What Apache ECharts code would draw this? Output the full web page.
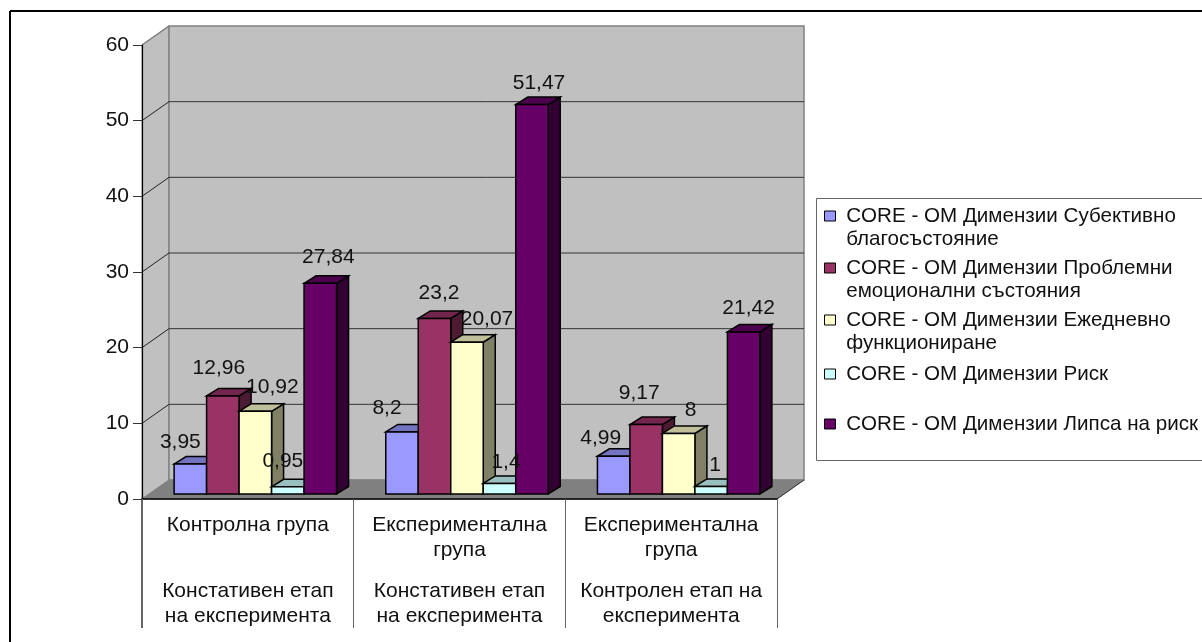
<!DOCTYPE html>
<html>
<head>
<meta charset="utf-8">
<style>html,body{margin:0;padding:0;background:#fff}#chart{width:1202px;height:642px}</style>
<script src="https://cdn.jsdelivr.net/npm/echarts@6/dist/echarts.min.js"></script>
</head>
<body>
<div id="chart"></div>
<script>
// Group labels under the axis
const categories = [
  'Контролна група|Констативен етап|на експеримента',
  'Експериментална|група|Констативен етап|на експеримента',
  'Експериментална|група|Контролен етап на|експеримента'
];
const wellbeing = [3.95, 8.2, 4.99];
const problems = [12.96, 23.2, 9.17];
const functioning = [10.92, 20.07, 8];
const risk = [0.95, 1.4, 1];
const noRisk = [27.84, 51.47, 21.42];
const seriesNames = [
  'CORE - ОМ Димензии Субективно\nблагосъстояние',
  'CORE - ОМ Димензии Проблемни\nемоционални състояния',
  'CORE - ОМ Димензии Ежедневно\nфункциониране',
  'CORE - ОМ Димензии Риск',
  'CORE - ОМ Димензии Липса на риск'
];
const yTicks = [0, 10, 20, 30, 40, 50, 60];

// Face colours per series: front, top, side
const faces = [
  ['#9999ff', '#7373bf', '#4d4d80'],
  ['#993366', '#73264d', '#4d1a33'],
  ['#ffffcc', '#bfbf99', '#808066'],
  ['#ccffff', '#99bfbf', '#668080'],
  ['#660066', '#4d004d', '#330033']
];
// Hand placement of the value labels relative to each bar's top centre [dx, dy], one row per series
const labelNudge = [
  [[-10, -22], [-15, -24], [-13, -18]],
  [[-4, -28], [4.5, -25.5], [-7, -31]],
  [[17, -24], [20, -23], [12, -23]],
  [[-5, -26], [6.5, -21], [4, -21]],
  [[8, -26], [7, -21.5], [5, -24]]
];
const legendCenters = [216, 268, 320, 374, 424];

// Oblique projection of the chart box
const WALL_DX = 27, WALL_DY = -19;
const BAR_INSET_DX = 7.5, BAR_INSET_DY = -5;
const BAR_DX = 12, BAR_DY = -7.5;
const BAR_WIDTH_SHARE = 0.1535;
const FONT = '"Liberation Sans", Arial, sans-serif';
const FONT_SIZE = 21;

const fmt = v => String(v).replace('.', ',');

function poly(points, fill, stroke, width, z2) {
  return {
    type: 'polygon', z2: z2,
    shape: { points: points },
    style: { fill: fill, stroke: stroke, lineWidth: width, lineJoin: 'miter' }
  };
}
function seg(a, b, stroke, width, z2) {
  return {
    type: 'line', z2: z2,
    shape: { x1: a[0], y1: a[1], x2: b[0], y2: b[1] },
    style: { stroke: stroke, lineWidth: width }
  };
}

// Back wall, side wall, floor and the gridlines that run across the walls
function renderBox(params, api) {
  const groupW = api.size([1, 0])[0];
  const lb = api.coord([0, 0]);
  const lt = api.coord([0, 60]);
  const x0 = lb[0] - groupW / 2;
  const x1 = x0 + groupW * categories.length;
  const yb = lb[1], yt = lt[1];
  const back = (x, y) => [x + WALL_DX, y + WALL_DY];
  const kids = [
    poly([[x0, yt], back(x0, yt), back(x0, yb), [x0, yb]], '#c0c0c0', '#808080', 1, 0),
    poly([back(x0, yt), back(x1, yt), back(x1, yb), back(x0, yb)], '#c0c0c0', '#808080', 1.5, 0),
    poly([[x0, yb], back(x0, yb), back(x1, yb), [x1, yb]], '#808080', '#808080', 1, 1),
    seg([x1, yb], back(x1, yb), '#333', 1, 2)
  ];
  yTicks.forEach(t => {
    if (t === 0 || t === 60) return;
    const y = api.coord([0, t])[1];
    kids.push(seg([x0, y], back(x0, y), '#222', 1, 2));
    kids.push(seg(back(x0, y), back(x1, y), '#333', 1, 2));
  });
  kids.push(seg([x0, yt], back(x0, yt), '#808080', 1.5, 2));
  kids.push(seg([x0, yb], [x0, yb + 129], '#000', 1.2, 2));
  return { type: 'group', children: kids };
}

// One 3-D column: front, top and side faces plus its value label
function renderBar(seriesIdx) {
  return function (params, api) {
    const cat = api.value(0), val = api.value(1);
    const top = api.coord([cat, val]);
    const base = api.coord([cat, 0]);
    const w = api.size([1, 0])[0] * BAR_WIDTH_SHARE;
    const xL = top[0] + BAR_INSET_DX + (seriesIdx - 2.5) * w;
    const xR = xL + w;
    const yT = top[1] + BAR_INSET_DY;
    const yB = base[1] + BAR_INSET_DY;
    const c = faces[seriesIdx];
    const nudge = labelNudge[seriesIdx][cat];
    return {
      type: 'group',
      children: [
        poly([[xR, yT], [xR + BAR_DX, yT + BAR_DY], [xR + BAR_DX, yB + BAR_DY], [xR, yB]], c[2], '#000', 1.5, 10 + seriesIdx),
        poly([[xL, yT], [xL + BAR_DX, yT + BAR_DY], [xR + BAR_DX, yT + BAR_DY], [xR, yT]], c[1], '#000', 1.5, 10 + seriesIdx),
        poly([[xL, yT], [xR, yT], [xR, yB], [xL, yB]], c[0], '#000', 1.5, 10 + seriesIdx),
        {
          type: 'text', z2: 100,
          style: {
            x: (xL + xR) / 2 + nudge[0], y: yT + nudge[1],
            text: fmt(val), fill: '#111', align: 'center', verticalAlign: 'middle',
            font: FONT_SIZE + 'px ' + FONT
          }
        }
      ]
    };
  };
}

const seriesValues = [wellbeing, problems, functioning, risk, noRisk];

const barSeries = seriesValues.map((vals, i) => ({
  type: 'custom',
  name: seriesNames[i],
  coordinateSystem: 'cartesian2d',
  z: 5,
  renderItem: renderBar(i),
  itemStyle: { color: faces[i][0] },
  encode: { x: 0, y: 1 },
  data: vals.map((v, c) => [c, v]),
  silent: true,
  animation: false
}));

const legends = seriesNames.map((name, i) => {
  const lines = name.split('\n');
  return {
    data: [name],
    left: 824,
    top: legendCenters[i] - (lines.length === 2 ? 34.5 : 11.5),
    orient: 'vertical',
    padding: 0,
    itemWidth: 11,
    itemHeight: 10,
    selectedMode: false,
    icon: 'rect',
    itemStyle: { borderColor: '#000', borderWidth: 1 },
    textStyle: { fontFamily: FONT, fontSize: 20.6, color: '#111', lineHeight: 23 },
    // a blank first line keeps the marker level with the first line of a wrapped name
    formatter: n => {
      const parts = n.split('\n').map(s => ' ' + s);
      return parts.length === 2 ? ' \n' + parts.join('\n') : parts[0];
    }
  };
});

const chart = echarts.init(document.getElementById('chart'), null, { renderer: 'canvas' });
chart.setOption({
  backgroundColor: '#fff',
  animation: false,
  textStyle: { fontFamily: FONT },
  grid: { left: 142, top: 45, width: 635, height: 454, containLabel: false },
  xAxis: {
    type: 'category',
    data: categories,
    z: 6,
    axisLine: { lineStyle: { color: '#000', width: 1.5 } },
    axisTick: { show: true, length: 129, lineStyle: { color: '#666', width: 1 } },
    splitLine: { show: false },
    axisLabel: {
      margin: 13.5,
      interval: 0,
      color: '#111',
      fontFamily: FONT,
      fontSize: FONT_SIZE,
      formatter: value => {
        const parts = value.split('|');
        const rows = parts.length === 3
          ? [parts[0], ' ', parts[1], parts[2]]
          : parts;
        return '{t|' + rows[0] + '}\n{t|' + rows[1] + '}\n{s| }\n{t|' + rows[2] + '}\n{t|' + rows[3] + '}';
      },
      rich: {
        t: { fontFamily: FONT, fontSize: FONT_SIZE, lineHeight: 25, color: '#111' },
        s: { fontSize: 2, lineHeight: 16 }
      }
    }
  },
  yAxis: {
    type: 'value',
    min: 0,
    max: 60,
    interval: 10,
    z: 6,
    axisLine: { show: true, lineStyle: { color: '#000', width: 1.2 } },
    axisTick: { show: true, length: 9, lineStyle: { color: '#333', width: 1 } },
    splitLine: { show: false },
    axisLabel: { margin: 13, color: '#111', fontFamily: FONT, fontSize: FONT_SIZE }
  },
  legend: legends,
  series: [{
    type: 'custom',
    name: 'box',
    coordinateSystem: 'cartesian2d',
    z: 1,
    silent: true,
    renderItem: renderBox,
    encode: { x: 0, y: 1 },
    data: [[0, 0]],
    animation: false
  }].concat(barSeries),
  graphic: [
    { type: 'rect', z: 0, shape: { x: 816.5, y: 198.5, width: 400, height: 262 }, style: { fill: '#fff', stroke: '#666', lineWidth: 1 } },
    { type: 'line', z: 0, shape: { x1: 10, y1: 11, x2: 1202, y2: 11 }, style: { stroke: '#000', lineWidth: 2 } },
    { type: 'line', z: 0, shape: { x1: 10, y1: 11, x2: 10, y2: 642 }, style: { stroke: '#000', lineWidth: 2 } }
  ]
});
</script>
</body>
</html>
